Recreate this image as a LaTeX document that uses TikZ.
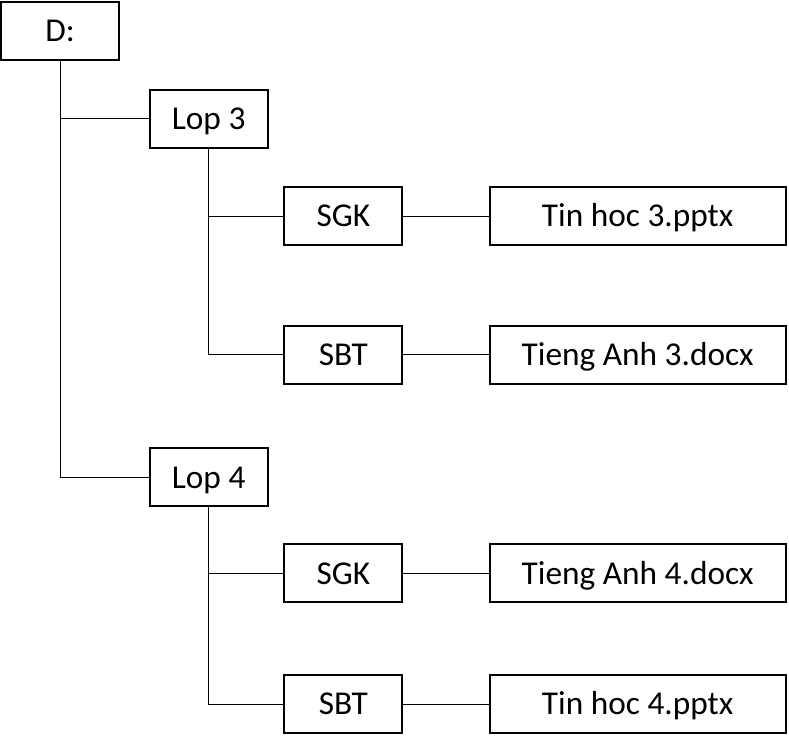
\documentclass[tikz,border=0pt]{standalone}
\usepackage{fontspec}
\setmainfont{Carlito}
\usepackage{tikz}
\usetikzlibrary{positioning}

\begin{document}
\begin{tikzpicture}[-,x=0.75pt,y=-0.75pt,node distance=2cm,thin]
  \tikzstyle{folder}=[draw,line width=1.5pt,minimum width=88.5pt,minimum height=43.5pt,inner sep=0pt,
    text height=17.5pt,text depth=1pt,font=\fontsize{25}{29}\selectfont]
  \tikzstyle{file}=[folder,minimum width=222pt]

  \useasboundingbox (0,0) rectangle (789,744);

  \node[folder] (D) at (60,30.5) {D:};
  \node[folder] (lopA) [below right=21pt and 21.5pt of D] {Lop 3};
  \node[folder] (sgkA) [below right=28pt and 11pt of lopA] {SGK};
  \node[file] (tinA) [right=64pt of sgkA] {Tin hoc 3.pptx};
  \node[folder] (sbtA) [below=59pt of sgkA] {SBT};
  \node[file] (anhA) [right=64pt of sbtA] {Tieng Anh 3.docx};
  \node[folder] (lopB) [below=224pt of lopA] {Lop 4};
  \node[folder] (sgkB) [below right=27pt and 11pt of lopB] {SGK};
  \node[file] (anhB) [right=64pt of sgkB] {Tieng Anh 4.docx};
  \node[folder] (sbtB) [below=53pt of sgkB] {SBT};
  \node[file] (tinB) [right=64pt of sbtB] {Tin hoc 4.pptx};

  \path (D.south) edge[to path={|- (\tikztotarget)}] (lopA.west);
  \path (D.south) edge[to path={|- (\tikztotarget)}] (lopB.west);
  \path (lopA.south) edge[to path={|- (\tikztotarget)}] (sgkA.west);
  \path (lopA.south) edge[to path={|- (\tikztotarget)}] (sbtA.west);
  \path (lopB.south) edge[to path={|- (\tikztotarget)}] (sgkB.west);
  \path (lopB.south) edge[to path={|- (\tikztotarget)}] (sbtB.west);
  \path (sgkA) edge (tinA);
  \path (sbtA) edge (anhA);
  \path (sgkB) edge (anhB);
  \path (sbtB) edge (tinB);

\end{tikzpicture}
\end{document}
